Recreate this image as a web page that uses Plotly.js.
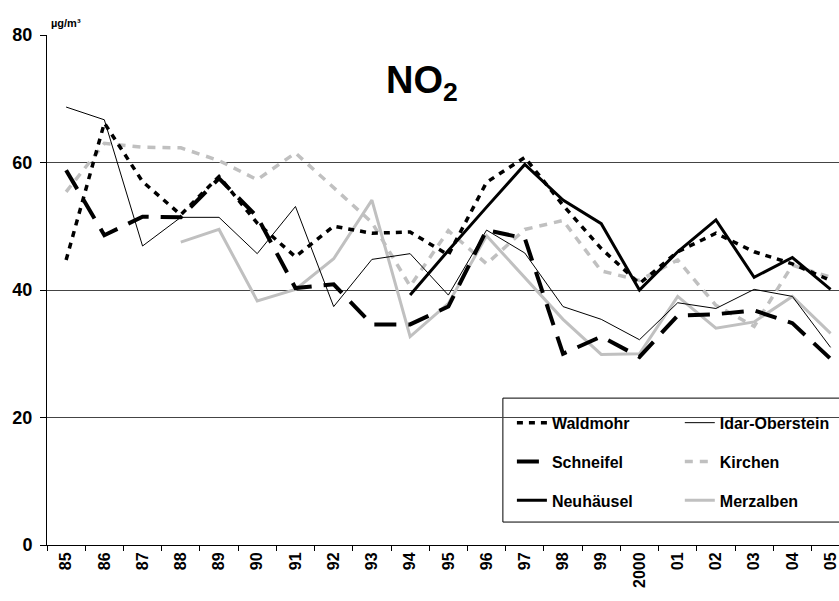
<!DOCTYPE html>
<html>
<head>
<meta charset="utf-8">
<script src="https://cdn.plot.ly/plotly-3.0.1.min.js"></script>
<style>html,body{margin:0;padding:0;background:#fff;}#chart{width:839px;height:601px;}</style>
</head>
<body>
<div id="chart"></div>
<script>
const years = ["85","86","87","88","89","90","91","92","93","94","95","96","97","98","99","2000","01","02","03","04","05"];
const waldmohr    = [44.7,66.2,57.0,51.8,57.8,50.5,45.2,50.0,48.9,49.1,45.5,56.9,60.8,53.3,46.5,41.0,46.0,48.9,46.0,44.1,41.5];
const idarOberstein = [68.7,66.7,46.9,51.4,51.4,45.7,53.1,37.4,44.8,45.7,39.2,49.4,45.8,37.4,35.4,32.2,38.0,37.1,40.1,39.0,31.0];
const schneifel   = [58.8,48.6,51.5,51.4,57.5,51.5,40.3,40.9,34.6,34.6,37.4,49.4,48.1,30.0,32.7,29.5,36.0,36.2,36.8,34.8,29.2];
const kirchen     = [55.4,63.0,62.4,62.3,60.3,57.3,61.5,56.0,50.6,40.6,49.3,44.1,49.5,50.9,43.0,41.5,44.7,37.6,34.3,43.9,42.0];
const neuhaeusel  = [null,null,null,null,null,null,null,null,null,39.2,46.2,53.0,59.7,54.1,50.4,40.0,46.0,51.0,42.0,45.1,40.1];
const merzalben   = [null,null,null,47.5,49.5,38.3,40.1,44.9,54.1,32.7,37.9,48.5,42.0,35.4,29.9,30.0,39.0,34.0,35.0,39.0,33.2];
const yTicks = [0,20,40,60,80];

function tr(name, y, color, width, dash, legend, rank) {
  return {
    type: 'scatter', mode: 'lines', x: years, y: y, name: name,
    line: {color: color, width: width, dash: dash},
    connectgaps: false, legend: legend, legendgroup: name, legendrank: rank,
    hoverinfo: 'skip'
  };
}
const data = [
  tr('Merzalben', merzalben, '#c0c0c0', 3, 'solid', 'legend2', 3),
  tr('Kirchen', kirchen, '#c0c0c0', 3.5, '8px,7px', 'legend2', 2),
  tr('Idar-Oberstein', idarOberstein, '#000000', 1, 'solid', 'legend2', 1),
  tr('Waldmohr', waldmohr, '#000000', 3.5, '6px,6px', 'legend', 1),
  tr('Schneifel', schneifel, '#000000', 4, '22px,12px', 'legend', 2),
  tr('Neuhäusel', neuhaeusel, '#000000', 3, 'solid', 'legend', 3)
];
const legFont = {family: 'Arial, Liberation Sans, sans-serif', size: 16, color: '#000', weight: 'bold'};
const layout = {
  width: 839, height: 601,
  margin: {l: 47, r: 0, t: 35, b: 56},
  paper_bgcolor: '#fff', plot_bgcolor: '#fff',
  showlegend: true,
  font: {family: 'Arial, Liberation Sans, sans-serif', color: '#000'},
  xaxis: {
    type: 'category', range: [-0.5, 20.22], tickson: 'boundaries',
    ticks: 'outside', ticklen: 5, tickcolor: '#000',
    showline: true, linecolor: '#000', linewidth: 1,
    showgrid: false, zeroline: false, tickangle: -90,
    tickfont: {size: 16, weight: 'bold', family: 'Arial, Liberation Sans, sans-serif', color: '#000'},
    fixedrange: true
  },
  yaxis: {
    range: [0, 80], tickvals: yTicks, ticktext: yTicks.map(String),
    ticks: 'outside', ticklen: 6, tickcolor: '#000',
    showline: true, linecolor: '#000', linewidth: 1,
    showgrid: true, gridcolor: '#444', gridwidth: 1, zeroline: false,
    ticklabelstandoff: 4,
    tickfont: {size: 18, weight: 'bold', family: 'Arial, Liberation Sans, sans-serif', color: '#000'},
    fixedrange: true
  },
  legend: {
    x: 0.587, xanchor: 'left', y: 0.273, yanchor: 'top',
    bgcolor: 'rgba(0,0,0,0)', borderwidth: 0, font: legFont,
    tracegroupgap: 15, traceorder: 'grouped', itemwidth: 30
  },
  legend2: {
    x: 0.799, xanchor: 'left', y: 0.273, yanchor: 'top',
    bgcolor: 'rgba(0,0,0,0)', borderwidth: 0, font: legFont,
    tracegroupgap: 15, traceorder: 'grouped', itemwidth: 30
  },
  shapes: [{
    type: 'rect', xref: 'paper', yref: 'paper',
    x0: 0.5756, x1: 1.02, y0: 0.045, y1: 0.288,
    line: {color: '#000', width: 1}, fillcolor: '#fff', layer: 'below'
  }],
  annotations: [
    {text: 'NO<sub>2</sub>', xref: 'paper', yref: 'paper', x: 0.474, y: 0.905,
     xanchor: 'center', yanchor: 'middle', showarrow: false,
     font: {size: 38, weight: 'bold', family: 'Arial, Liberation Sans, sans-serif', color: '#000'}},
    {text: 'µg/m³', xref: 'paper', yref: 'paper', x: 0.003, y: 1.023,
     xanchor: 'left', yanchor: 'middle', showarrow: false,
     font: {size: 11, weight: 'bold', family: 'Arial, Liberation Sans, sans-serif', color: '#000'}}
  ]
};
Plotly.newPlot('chart', data, layout, {displayModeBar: false, staticPlot: true});
</script>
</body>
</html>
